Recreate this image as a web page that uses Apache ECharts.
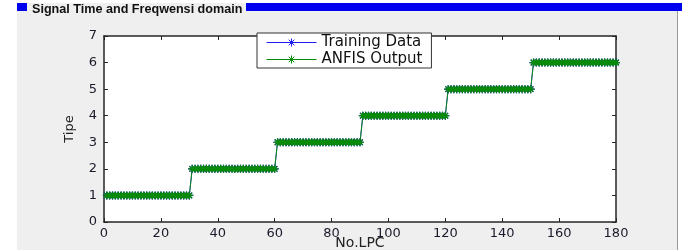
<!DOCTYPE html>
<html>
<head>
<meta charset="utf-8">
<script src="https://cdn.jsdelivr.net/npm/echarts@6/dist/echarts.min.js"></script>
<style>
html,body{margin:0;padding:0;background:#fff;}
#c{width:682px;height:250px;}
</style>
</head>
<body>
<div id="c"></div>
<script>
// ---- data ----
var noLPC = [
  1,2,3,4,5,6,7,8,9,10,11,12,13,14,15,16,17,18,19,20,21,22,23,24,25,26,27,28,29,30,
  31,32,33,34,35,36,37,38,39,40,41,42,43,44,45,46,47,48,49,50,51,52,53,54,55,56,57,58,59,60,
  61,62,63,64,65,66,67,68,69,70,71,72,73,74,75,76,77,78,79,80,81,82,83,84,85,86,87,88,89,90,
  91,92,93,94,95,96,97,98,99,100,101,102,103,104,105,106,107,108,109,110,111,112,113,114,115,116,117,118,119,120,
  121,122,123,124,125,126,127,128,129,130,131,132,133,134,135,136,137,138,139,140,141,142,143,144,145,146,147,148,149,150,
  151,152,153,154,155,156,157,158,159,160,161,162,163,164,165,166,167,168,169,170,171,172,173,174,175,176,177,178,179,180
];
var trainingData = [
  1,1,1,1,1,1,1,1,1,1,1,1,1,1,1,1,1,1,1,1,1,1,1,1,1,1,1,1,1,1,
  2,2,2,2,2,2,2,2,2,2,2,2,2,2,2,2,2,2,2,2,2,2,2,2,2,2,2,2,2,2,
  3,3,3,3,3,3,3,3,3,3,3,3,3,3,3,3,3,3,3,3,3,3,3,3,3,3,3,3,3,3,
  4,4,4,4,4,4,4,4,4,4,4,4,4,4,4,4,4,4,4,4,4,4,4,4,4,4,4,4,4,4,
  5,5,5,5,5,5,5,5,5,5,5,5,5,5,5,5,5,5,5,5,5,5,5,5,5,5,5,5,5,5,
  6,6,6,6,6,6,6,6,6,6,6,6,6,6,6,6,6,6,6,6,6,6,6,6,6,6,6,6,6,6
];
var anfisOutput = [
  1,1,1,1,1,1,1,1,1,1,1,1,1,1,1,1,1,1,1,1,1,1,1,1,1,1,1,1,1,1,
  2,2,2,2,2,2,2,2,2,2,2,2,2,2,2,1.99,2,2,2,2,2,2,2,2,2,2,2,2,2,2,
  3,3,3,3,3,3,3,3,3,3,3,3,3,3,3,3,3,3,3,3,3,3,3,3,3,3,3,3,3,3,
  4,4,4,4,4,4,4,4,4,4,4,4,4,4,4,4,4,4,4,4,4,4,4,4,4,4,4,4,4,4,
  5,5,5,5,5,5,5,5,5,5,5,5,5,5,5,5,5,5,5,5,5,5,5,5,5,5,5,5,5,5,
  6,6,6,6,6,6,6,6,6,6,6,6,6,6,6,6,6,6,6,6,6,6,6,6,6,6,6,6,6,6
];
var xTicks = [0,20,40,60,80,100,120,140,160,180];
var yTicks = [0,1,2,3,4,5,6,7];
var panelTitle = 'Signal Time and Freqwensi domain';
var xName = 'No.LPC', yName = 'Tipe';
var seriesNames = ['Training Data','ANFIS Output'];

function pairs(xs, ys){ var out=[]; for(var i=0;i<xs.length;i++) out.push([xs[i], ys[i]]); return out; }

var star = 'path://M5,0L5,10M0,5L10,5M1.5,1.5L8.5,8.5M1.5,8.5L8.5,1.5';
var legendIcon = 'path://M0,5L50,5M25,1L25,9M21,5L29,5M22.2,2.2L27.8,7.8M22.2,7.8L27.8,2.2';
var axisCol = '#262626';
var FONT = 'DejaVu Sans';

var chart = echarts.init(document.getElementById('c'), null, {renderer:'canvas'});
var grid = {left:104, right:66, top:36, bottom:28, show:true, backgroundColor:'#fff', borderWidth:0,
            outerBoundsMode:'none', containLabel:false};
var baseAxis = {
  axisLine:{show:true, onZero:false, lineStyle:{color:axisCol, width:1.5}},
  axisTick:{show:true, inside:true, length:4, lineStyle:{color:axisCol}},
  splitLine:{show:false}
};
chart.setOption({
  animation:false,
  backgroundColor:'#fff',
  graphic:[
    {type:'rect', z:-10, shape:{x:17,y:4,width:661,height:246}, style:{fill:'#efefef'}},
    {type:'rect', z:-9, shape:{x:17,y:3,width:665,height:8}, style:{fill:'#0000f0'}},
    {type:'rect', z:-8, shape:{x:27,y:3,width:219,height:14}, style:{fill:'#efefef'}},
    {type:'rect', z:-8, shape:{x:677,y:11,width:1,height:239}, style:{fill:'#9a9a9a'}},
    {type:'text', z:5, left:32, top:3, style:{text:panelTitle, font:'bold 12.6px "Liberation Sans", Arial', fill:'#111'}}
  ],
  grid:grid,
  legend:{
    orient:'vertical', left:257, top:33,
    itemWidth:50, itemHeight:9, itemGap:2,
    padding:[2,9,1,9],
    backgroundColor:'#fff', borderColor:'#333', borderWidth:1,
    textStyle:{fontFamily:FONT, fontSize:15, color:'#111'},
    data:[
      {name:seriesNames[0], icon:legendIcon, itemStyle:{color:'#4040ff', borderColor:'#2020ee', borderWidth:1}},
      {name:seriesNames[1], icon:legendIcon, itemStyle:{color:'#0a8a0a', borderColor:'#0a8a0a', borderWidth:1}}
    ]
  },
  xAxis:[
    Object.assign({}, baseAxis, {type:'value', min:0, max:180, interval:20,
      name:xName, nameLocation:'middle', nameGap:14, nameMoveOverlap:false,
      nameTextStyle:{fontFamily:FONT, fontSize:14, color:'#222'},
      axisLabel:{fontFamily:FONT, fontSize:13, color:'#1a1a2a', margin:5}}),
    Object.assign({}, baseAxis, {type:'value', position:'top', min:0, max:180, interval:20, axisLabel:{show:false}})
  ],
  yAxis:[
    Object.assign({}, baseAxis, {type:'value', min:0, max:7, interval:1,
      name:yName, nameLocation:'middle', nameGap:28, nameRotate:90, nameMoveOverlap:false,
      nameTextStyle:{fontFamily:FONT, fontSize:13, color:'#222'},
      axisLabel:{fontFamily:FONT, fontSize:13, color:'#1a1a2a', margin:7}}),
    Object.assign({}, baseAxis, {type:'value', position:'right', min:0, max:7, interval:1, axisLabel:{show:false}})
  ],
  series:[
    {name:seriesNames[0], type:'line', data:pairs(noLPC, trainingData),
     symbol:star, symbolSize:8, showSymbol:true, showAllSymbol:true,
     lineStyle:{color:'#3a3aff', width:1},
     itemStyle:{color:'#0000cc', borderColor:'#0000cc', borderWidth:1.2}},
    {name:seriesNames[1], type:'line', data:pairs(noLPC, anfisOutput),
     symbol:star, symbolSize:8, showSymbol:true, showAllSymbol:true,
     lineStyle:{color:'#0a8a0a', width:1},
     itemStyle:{color:'#0a8a0a', borderColor:'#0a8a0a', borderWidth:1.2}}
  ]
});
</script>
</body>
</html>
